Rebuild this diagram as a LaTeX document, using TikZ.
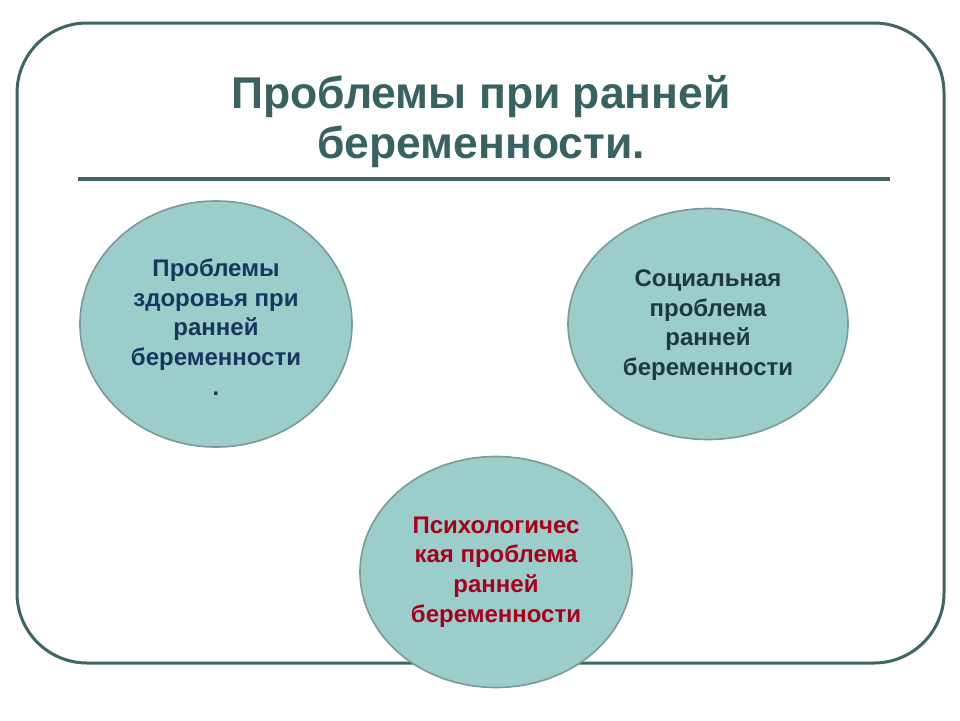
\documentclass[tikz,border=0pt]{standalone}
\usepackage{fontspec}
\setmainfont{Liberation Sans}
\usetikzlibrary{shapes.geometric}
\definecolor{frame}{HTML}{3E6464}
\definecolor{titlec}{HTML}{386262}
\definecolor{fillc}{HTML}{9BCDCB}
\definecolor{edgec}{HTML}{7A9A98}
\definecolor{navy}{HTML}{17375E}
\definecolor{darkteal}{HTML}{1E3A3A}
\definecolor{darkred}{HTML}{A8001C}
\begin{document}
\begin{tikzpicture}[x=1pt,y=-1pt,
  bubble/.style={ellipse,fill=fillc,draw=edgec,line width=1.6pt,inner sep=0pt},
  btext/.style={font=\bfseries\fontsize{24}{29.7}\selectfont,align=center}]
\useasboundingbox (0,0) rectangle (960,720);
\fill[white] (0,0) rectangle (960,720);
\draw[frame,line width=3pt,rounded corners=70pt] (17,23) rectangle (944,663);
\node[titlec,font=\bfseries\fontsize{44.5}{50}\selectfont,align=center] (title) at (481,122) {Проблемы при ранней\\беременности.};
\draw[frame,line width=4pt] (78,179) coordinate (l1) -- (890,179) coordinate (l2);
\node[bubble,minimum width=272pt,minimum height=246pt] (b1) at (216,324) {};
\node[btext,navy] (t1) at (216,327) {Проблемы\\здоровья при\\ранней\\беременности\\.};
\node[bubble,minimum width=280pt,minimum height=231pt] (b2) at (708,324) {};
\node[btext,darkteal] (t2) at (708,325) {Социальная\\проблема\\ранней\\беременности};
\node[bubble,minimum width=272pt,minimum height=231pt] (b3) at (496,572) {};
\node[btext,darkred] (t3) at (496,572) {Психологичес\\кая проблема\\ранней\\беременности};
\end{tikzpicture}
\end{document}
